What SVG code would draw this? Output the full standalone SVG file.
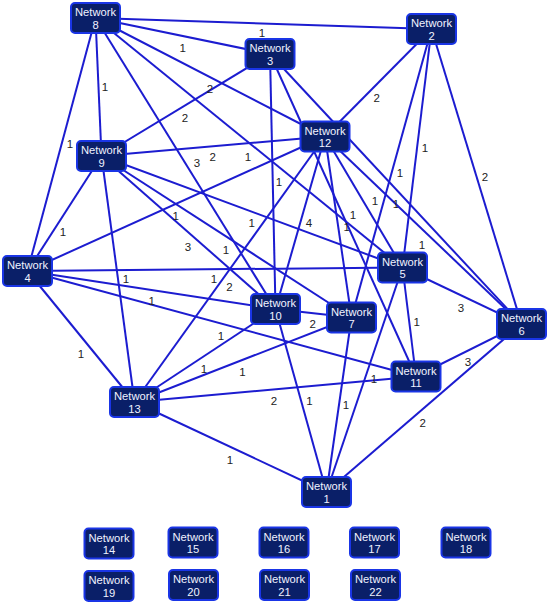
<svg xmlns="http://www.w3.org/2000/svg" width="549" height="604" viewBox="0 0 549 604">
<style>
.e{stroke:#1c1cd0;stroke-width:2;fill:none}
.n rect{fill:#0a1f68;stroke:#1a35e6;stroke-width:2}
.n text{fill:#f0f2ff;font-family:"Liberation Sans",Arial,sans-serif;font-size:11.2px;text-anchor:middle}
.l{fill:#222;font-family:"Liberation Sans",Arial,sans-serif;font-size:11.5px;text-anchor:middle}
</style>
<rect width="549" height="604" fill="#fff"/>
<g id="connectors">
<line class="e" x1="95.5" y1="18" x2="431.5" y2="29"/>
<line class="e" x1="95.5" y1="18" x2="270" y2="54"/>
<line class="e" x1="95.5" y1="18" x2="101.5" y2="156"/>
<line class="e" x1="95.5" y1="18" x2="325" y2="136.5"/>
<line class="e" x1="270" y1="54" x2="101.5" y2="156"/>
<line class="e" x1="431.5" y1="29" x2="325" y2="136.5"/>
<line class="e" x1="95.5" y1="18" x2="27.5" y2="271"/>
<line class="e" x1="95.5" y1="18" x2="275.5" y2="309"/>
<line class="e" x1="101.5" y1="156" x2="325" y2="136.5"/>
<line class="e" x1="95.5" y1="18" x2="402.5" y2="267.5"/>
<line class="e" x1="270" y1="54" x2="275.5" y2="309"/>
<line class="e" x1="431.5" y1="29" x2="402.5" y2="267.5"/>
<line class="e" x1="431.5" y1="29" x2="521.5" y2="324"/>
<line class="e" x1="431.5" y1="29" x2="351.5" y2="317.5"/>
<line class="e" x1="325" y1="136.5" x2="402.5" y2="267.5"/>
<line class="e" x1="270" y1="54" x2="521.5" y2="324"/>
<line class="e" x1="270" y1="54" x2="416" y2="376.5"/>
<line class="e" x1="325" y1="136.5" x2="351.5" y2="317.5"/>
<line class="e" x1="27.5" y1="271" x2="325" y2="136.5"/>
<line class="e" x1="101.5" y1="156" x2="402.5" y2="267.5"/>
<line class="e" x1="325" y1="136.5" x2="275.5" y2="309"/>
<line class="e" x1="101.5" y1="156" x2="27.5" y2="271"/>
<line class="e" x1="101.5" y1="156" x2="275.5" y2="309"/>
<line class="e" x1="101.5" y1="156" x2="351.5" y2="317.5"/>
<line class="e" x1="325" y1="136.5" x2="521.5" y2="324"/>
<line class="e" x1="101.5" y1="156" x2="134.5" y2="402"/>
<line class="e" x1="27.5" y1="271" x2="402.5" y2="267.5"/>
<line class="e" x1="325" y1="136.5" x2="134.5" y2="402"/>
<line class="e" x1="27.5" y1="271" x2="275.5" y2="309"/>
<line class="e" x1="402.5" y1="267.5" x2="521.5" y2="324"/>
<line class="e" x1="402.5" y1="267.5" x2="416" y2="376.5"/>
<line class="e" x1="275.5" y1="309" x2="351.5" y2="317.5"/>
<line class="e" x1="27.5" y1="271" x2="416" y2="376.5"/>
<line class="e" x1="27.5" y1="271" x2="134.5" y2="402"/>
<line class="e" x1="521.5" y1="324" x2="416" y2="376.5"/>
<line class="e" x1="134.5" y1="402" x2="275.5" y2="309"/>
<line class="e" x1="134.5" y1="402" x2="351.5" y2="317.5"/>
<line class="e" x1="402.5" y1="267.5" x2="326.5" y2="492"/>
<line class="e" x1="134.5" y1="402" x2="416" y2="376.5"/>
<line class="e" x1="275.5" y1="309" x2="326.5" y2="492"/>
<line class="e" x1="351.5" y1="317.5" x2="326.5" y2="492"/>
<line class="e" x1="521.5" y1="324" x2="326.5" y2="492"/>
<line class="e" x1="134.5" y1="402" x2="326.5" y2="492"/>
</g>
<g id="edge-labels">
<text class="l" x="262" y="37">1</text>
<text class="l" x="182.7" y="51.7">1</text>
<text class="l" x="105" y="91">1</text>
<text class="l" x="210" y="93">2</text>
<text class="l" x="185" y="121.5">2</text>
<text class="l" x="376.7" y="102.3">2</text>
<text class="l" x="70" y="148">1</text>
<text class="l" x="197" y="167">3</text>
<text class="l" x="212.7" y="160.7">2</text>
<text class="l" x="248" y="160.7">1</text>
<text class="l" x="279" y="185.7">1</text>
<text class="l" x="425" y="152">1</text>
<text class="l" x="485" y="180.7">2</text>
<text class="l" x="400" y="177">1</text>
<text class="l" x="375" y="204.7">1</text>
<text class="l" x="396" y="208">1</text>
<text class="l" x="353" y="219">1</text>
<text class="l" x="346.7" y="230.7">1</text>
<text class="l" x="175.7" y="220">1</text>
<text class="l" x="251.7" y="227">1</text>
<text class="l" x="309" y="226.7">4</text>
<text class="l" x="63" y="236">1</text>
<text class="l" x="188" y="251">3</text>
<text class="l" x="226" y="254">1</text>
<text class="l" x="422" y="249">1</text>
<text class="l" x="126" y="282.5">1</text>
<text class="l" x="214" y="282.5">1</text>
<text class="l" x="229.5" y="290.5">2</text>
<text class="l" x="151.7" y="305">1</text>
<text class="l" x="461" y="312">3</text>
<text class="l" x="416.7" y="325.7">1</text>
<text class="l" x="312.7" y="328">2</text>
<text class="l" x="221" y="340">1</text>
<text class="l" x="81" y="358">1</text>
<text class="l" x="468" y="365.7">3</text>
<text class="l" x="204" y="373">1</text>
<text class="l" x="242.5" y="376">1</text>
<text class="l" x="374" y="383">1</text>
<text class="l" x="274" y="404.5">2</text>
<text class="l" x="309.5" y="404.7">1</text>
<text class="l" x="346" y="408.5">1</text>
<text class="l" x="422.7" y="426.5">2</text>
<text class="l" x="230" y="464">1</text>
</g>
<g id="n1" class="n" transform="translate(326.5,492)"><rect x="-24.5" y="-15" width="49" height="30" rx="4"/><text y="-2">Network</text><text y="10.5">1</text></g>
<g id="n2" class="n" transform="translate(431.5,29)"><rect x="-24.5" y="-15" width="49" height="30" rx="4"/><text y="-2">Network</text><text y="10.5">2</text></g>
<g id="n3" class="n" transform="translate(270,54)"><rect x="-24.5" y="-15" width="49" height="30" rx="4"/><text y="-2">Network</text><text y="10.5">3</text></g>
<g id="n4" class="n" transform="translate(27.5,271)"><rect x="-24.5" y="-15" width="49" height="30" rx="4"/><text y="-2">Network</text><text y="10.5">4</text></g>
<g id="n5" class="n" transform="translate(402.5,267.5)"><rect x="-24.5" y="-15" width="49" height="30" rx="4"/><text y="-2">Network</text><text y="10.5">5</text></g>
<g id="n6" class="n" transform="translate(521.5,324)"><rect x="-24.5" y="-15" width="49" height="30" rx="4"/><text y="-2">Network</text><text y="10.5">6</text></g>
<g id="n7" class="n" transform="translate(351.5,317.5)"><rect x="-24.5" y="-15" width="49" height="30" rx="4"/><text y="-2">Network</text><text y="10.5">7</text></g>
<g id="n8" class="n" transform="translate(95.5,18)"><rect x="-24.5" y="-15" width="49" height="30" rx="4"/><text y="-2">Network</text><text y="10.5">8</text></g>
<g id="n9" class="n" transform="translate(101.5,156)"><rect x="-24.5" y="-15" width="49" height="30" rx="4"/><text y="-2">Network</text><text y="10.5">9</text></g>
<g id="n10" class="n" transform="translate(275.5,309)"><rect x="-24.5" y="-15" width="49" height="30" rx="4"/><text y="-2">Network</text><text y="10.5">10</text></g>
<g id="n11" class="n" transform="translate(416,376.5)"><rect x="-24.5" y="-15" width="49" height="30" rx="4"/><text y="-2">Network</text><text y="10.5">11</text></g>
<g id="n12" class="n" transform="translate(325,136.5)"><rect x="-24.5" y="-15" width="49" height="30" rx="4"/><text y="-2">Network</text><text y="10.5">12</text></g>
<g id="n13" class="n" transform="translate(134.5,402)"><rect x="-24.5" y="-15" width="49" height="30" rx="4"/><text y="-2">Network</text><text y="10.5">13</text></g>
<g id="n14" class="n" transform="translate(109,543.5)"><rect x="-24.5" y="-15" width="49" height="30" rx="4"/><text y="-2">Network</text><text y="10.5">14</text></g>
<g id="n15" class="n" transform="translate(193,542.5)"><rect x="-24.5" y="-15" width="49" height="30" rx="4"/><text y="-2">Network</text><text y="10.5">15</text></g>
<g id="n16" class="n" transform="translate(284,542.5)"><rect x="-24.5" y="-15" width="49" height="30" rx="4"/><text y="-2">Network</text><text y="10.5">16</text></g>
<g id="n17" class="n" transform="translate(374.5,542.5)"><rect x="-24.5" y="-15" width="49" height="30" rx="4"/><text y="-2">Network</text><text y="10.5">17</text></g>
<g id="n18" class="n" transform="translate(466,542.5)"><rect x="-24.5" y="-15" width="49" height="30" rx="4"/><text y="-2">Network</text><text y="10.5">18</text></g>
<g id="n19" class="n" transform="translate(109,586)"><rect x="-24.5" y="-15" width="49" height="30" rx="4"/><text y="-2">Network</text><text y="10.5">19</text></g>
<g id="n20" class="n" transform="translate(193.5,585)"><rect x="-24.5" y="-15" width="49" height="30" rx="4"/><text y="-2">Network</text><text y="10.5">20</text></g>
<g id="n21" class="n" transform="translate(284.5,585)"><rect x="-24.5" y="-15" width="49" height="30" rx="4"/><text y="-2">Network</text><text y="10.5">21</text></g>
<g id="n22" class="n" transform="translate(375.5,585)"><rect x="-24.5" y="-15" width="49" height="30" rx="4"/><text y="-2">Network</text><text y="10.5">22</text></g>
</svg>
